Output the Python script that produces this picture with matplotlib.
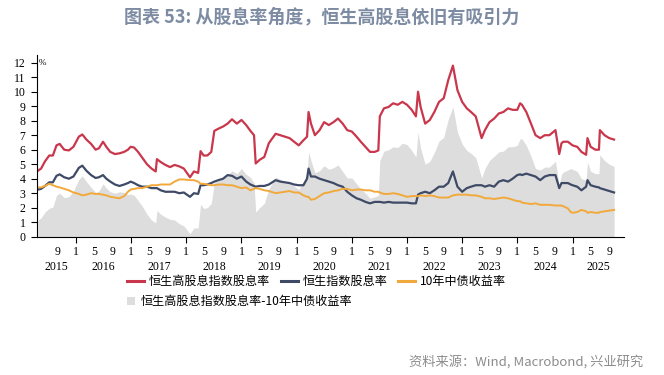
import numpy as np
import pandas as pd
import matplotlib
matplotlib.use("Agg")
import matplotlib.pyplot as plt
import matplotlib.dates as mdates
import matplotlib.transforms as mtransforms
from matplotlib.lines import Line2D
from matplotlib.patches import Patch
from matplotlib.ticker import FuncFormatter

plt.rcParams['font.family'] = ['Noto Sans CJK SC', 'DejaVu Sans']

# data (%)
dates = [
    "2015-04-24", "2015-05-15", "2015-06-10", "2015-07-08", "2015-08-01", "2015-08-25",
    "2015-09-15", "2015-10-15", "2015-11-15", "2015-12-15", "2016-01-20", "2016-02-12",
    "2016-03-10", "2016-04-10", "2016-05-10", "2016-06-01", "2016-06-28", "2016-07-20",
    "2016-08-15", "2016-09-15", "2016-10-15", "2016-11-15", "2016-12-10", "2016-12-28",
    "2017-01-20", "2017-02-15", "2017-03-15", "2017-04-15", "2017-05-15", "2017-06-12",
    "2017-06-20", "2017-07-15", "2017-08-15", "2017-09-15", "2017-10-15", "2017-11-15",
    "2017-12-15", "2018-01-25", "2018-02-20", "2018-03-20", "2018-04-05", "2018-04-25",
    "2018-05-20", "2018-06-15", "2018-07-05", "2018-08-01", "2018-09-01", "2018-10-01",
    "2018-10-30", "2018-12-01", "2019-01-01", "2019-02-01", "2019-03-01", "2019-03-25",
    "2019-04-05", "2019-05-01", "2019-06-01", "2019-07-01", "2019-08-15", "2019-09-15",
    "2019-10-15", "2019-11-15", "2019-12-15", "2020-01-15", "2020-02-15", "2020-03-10",
    "2020-03-20", "2020-04-05", "2020-05-01", "2020-06-01", "2020-07-01", "2020-08-01",
    "2020-09-01", "2020-10-01", "2020-11-01", "2020-12-01", "2021-01-01", "2021-02-01",
    "2021-03-01", "2021-04-01", "2021-05-01", "2021-06-01", "2021-06-25", "2021-07-05",
    "2021-08-01", "2021-09-01", "2021-10-01", "2021-11-01", "2021-12-01", "2022-01-01",
    "2022-02-01", "2022-03-01", "2022-03-15", "2022-04-01", "2022-05-01", "2022-06-01",
    "2022-07-01", "2022-08-01", "2022-09-01", "2022-10-01", "2022-11-01", "2022-12-01",
    "2023-01-01", "2023-02-01", "2023-03-01", "2023-04-01", "2023-05-10", "2023-06-01",
    "2023-07-01", "2023-08-01", "2023-09-01", "2023-10-01", "2023-11-01", "2023-12-01",
    "2024-01-01", "2024-01-20", "2024-02-01", "2024-03-01", "2024-04-01", "2024-05-01",
    "2024-06-01", "2024-07-01", "2024-08-01", "2024-09-10", "2024-10-05", "2024-10-20",
    "2024-11-01", "2024-12-01", "2024-12-20", "2025-01-01", "2025-02-01", "2025-03-01",
    "2025-04-01", "2025-04-10", "2025-05-01", "2025-06-01", "2025-06-25", "2025-07-01",
    "2025-08-01", "2025-09-01", "2025-10-03",
]

# 恒生高股息指数股息率
hshdy = [
    4.55, 4.7, 5.2, 5.6, 5.6, 6.3,
    6.4, 6.0, 5.95, 6.2, 6.9, 7.05,
    6.7, 6.4, 6.0, 6.1, 6.55, 6.2,
    5.85, 5.7, 5.75, 5.85, 6.0, 6.2,
    6.15, 5.85, 5.45, 5.0, 4.7, 4.5,
    5.35, 5.15, 4.95, 4.8, 4.95, 4.85,
    4.7, 4.1, 4.5, 4.4, 5.9, 5.6,
    5.6, 5.85, 7.3, 7.45, 7.6, 7.8,
    8.1, 7.8, 8.05, 7.7, 7.3, 7.0,
    5.05, 5.3, 5.5, 6.45, 7.1, 7.0,
    6.9, 6.8, 6.55, 6.3, 6.65, 6.9,
    8.6, 7.8, 7.0, 7.35, 7.9, 7.7,
    7.9, 8.15, 7.8, 7.35, 7.25, 6.9,
    6.55, 6.2, 5.85, 5.85, 5.95, 8.3,
    8.85, 8.95, 9.2, 9.1, 9.3, 9.1,
    8.75, 8.3, 10.0, 8.95, 7.8, 8.05,
    8.6, 9.3, 9.55, 10.8, 11.8, 10.1,
    9.3, 8.85, 8.6, 8.3, 6.8, 7.35,
    7.9, 8.15, 8.5, 8.6, 8.85, 8.75,
    8.75, 9.2, 9.1, 8.6, 7.8, 7.0,
    6.8, 7.0, 7.0, 7.35, 5.7, 6.45,
    6.55, 6.55, 6.4, 6.3, 6.2, 5.85,
    5.65, 6.8, 6.2, 6.0, 6.0, 7.35,
    7.0, 6.8, 6.7,
]

# 恒生指数股息率
hsi = [
    3.25, 3.3, 3.5, 3.75, 3.75, 4.2,
    4.3, 4.1, 4.0, 4.15, 4.75, 4.9,
    4.55, 4.25, 4.05, 4.1, 4.25, 4.0,
    3.8, 3.6, 3.5, 3.6, 3.7, 3.8,
    3.7, 3.55, 3.45, 3.45, 3.35, 3.35,
    3.35, 3.2, 3.1, 3.1, 3.1, 3.0,
    3.05, 2.75, 3.0, 2.95, 3.55, 3.55,
    3.6, 3.7, 3.8, 3.9, 4.0, 4.25,
    4.2, 4.0, 4.15, 3.8, 3.6, 3.5,
    3.45, 3.5, 3.5, 3.6, 3.9, 3.8,
    3.75, 3.7, 3.6, 3.55, 3.55, 4.0,
    4.7, 4.15, 4.15, 4.0, 3.9, 3.8,
    3.7, 3.55, 3.45, 3.1, 2.85, 2.65,
    2.55, 2.4, 2.3, 2.4, 2.4, 2.4,
    2.35, 2.4, 2.35, 2.35, 2.35, 2.35,
    2.3, 2.3, 2.9, 3.0, 3.1, 3.0,
    3.2, 3.45, 3.45, 3.7, 4.5, 3.45,
    3.1, 3.35, 3.45, 3.55, 3.55, 3.45,
    3.55, 3.45, 3.8, 3.9, 3.8, 4.0,
    4.25, 4.3, 4.25, 4.35, 4.25, 4.15,
    3.9, 4.15, 4.25, 4.25, 3.35, 3.7,
    3.7, 3.7, 3.6, 3.55, 3.45, 3.2,
    3.45, 3.9, 3.55, 3.45, 3.4, 3.35,
    3.25, 3.15, 3.05,
]

# 10年中债收益率
cgb10 = [
    3.4, 3.4, 3.5, 3.65, 3.55, 3.45,
    3.4, 3.3, 3.2, 3.05, 2.95, 2.85,
    2.9, 3.0, 2.95, 2.95, 2.9, 2.85,
    2.75, 2.7, 2.65, 2.8, 3.1, 3.25,
    3.3, 3.35, 3.35, 3.45, 3.55, 3.55,
    3.55, 3.6, 3.6, 3.6, 3.8, 3.95,
    3.95, 3.9, 3.9, 3.8, 3.65, 3.65,
    3.6, 3.55, 3.55, 3.6, 3.6, 3.55,
    3.55, 3.45, 3.35, 3.4, 3.2, 3.3,
    3.35, 3.3, 3.2, 3.15, 3.0, 3.05,
    3.1, 3.15, 3.05, 3.05, 2.85, 2.75,
    2.75, 2.55, 2.6, 2.8, 3.0, 3.05,
    3.15, 3.2, 3.3, 3.3, 3.2, 3.25,
    3.25, 3.2, 3.2, 3.1, 3.1, 3.05,
    2.95, 2.95, 3.0, 2.95, 2.85, 2.75,
    2.8, 2.8, 2.8, 2.85, 2.8, 2.85,
    2.8, 2.7, 2.7, 2.7, 2.85, 2.9,
    2.9, 2.9, 2.85, 2.85, 2.75, 2.65,
    2.65, 2.6, 2.65, 2.7, 2.65, 2.55,
    2.45, 2.45, 2.35, 2.3, 2.25, 2.3,
    2.2, 2.2, 2.2, 2.15, 2.15, 2.15,
    2.1, 1.95, 1.7, 1.65, 1.7, 1.85,
    1.75, 1.65, 1.7, 1.65, 1.65, 1.7,
    1.75, 1.8, 1.85,
]

years = list(range(2015, 2026))
label_start = pd.Timestamp('2015-06-01')   # first month label shown is Sep 2015

RED = '#c9374c'
NAVY = '#3e4a66'
ORANGE = '#f2a93b'
FILL = '#bfbfbf'

x = pd.to_datetime(dates)
gap = np.array(hshdy) - np.array(cgb10)

fig = plt.figure(figsize=(6.64, 3.75), dpi=100)
ax = fig.add_axes([0.0553, 0.3688, 0.8845, 0.4833])

ax.plot(x, hshdy, color=RED, lw=1.6)
ax.plot(x, hsi, color=NAVY, lw=1.6)
ax.plot(x, cgb10, color=ORANGE, lw=1.4)
# spread drawn on top, semi-transparent, so lines underneath look washed out
ax.fill_between(x, 0, gap, color=FILL, alpha=0.53, lw=0)

x0 = pd.Timestamp('2015-04-16')
x1 = pd.Timestamp('2025-12-08')
ax.set_xlim(x0, x1)
ax.set_ylim(0, 12.5)
ax.set_yticks(range(13))


def month_fmt(v, pos):
    d = mdates.num2date(v).replace(tzinfo=None)
    if d < label_start:
        return ''
    return str(d.month)


# Jan: major ticks with a mark; May/Sep: minor ticks, label only
ax.xaxis.set_major_locator(mdates.YearLocator())
ax.xaxis.set_major_formatter(FuncFormatter(month_fmt))
ax.xaxis.set_minor_locator(mdates.MonthLocator(bymonth=[5, 9]))
ax.xaxis.set_minor_formatter(FuncFormatter(month_fmt))
ax.tick_params(axis='x', which='major', length=4, width=0.8, pad=2.5, labelsize=8.5,
               labelfontfamily='Liberation Serif')
ax.tick_params(axis='x', which='minor', length=0, pad=6.5, labelsize=8.5,
               labelfontfamily='Liberation Serif')
ax.tick_params(axis='y', length=4, width=0.8, pad=4, labelsize=8.5,
               labelfontfamily='Liberation Serif')

for s in ['top', 'right']:
    ax.spines[s].set_visible(False)
for s in ['left', 'bottom']:
    ax.spines[s].set_linewidth(0.8)

# year labels centred on the visible part of each year
trans = mtransforms.blended_transform_factory(ax.transData, ax.transAxes)
for yr in years:
    a = max(pd.Timestamp(f'{yr}-01-01'), x0)
    b = min(pd.Timestamp(f'{yr + 1}-01-01'), x1)
    ax.text(a + (b - a) / 2, -0.165, str(yr), transform=trans, ha='center',
            va='center', fontsize=8.5, family='Liberation Serif')

ax.text(0.004, 12 / 12.5, '%', transform=ax.transAxes, ha='left', va='center',
        fontsize=6.5, family='Liberation Serif')

h1 = [Line2D([], [], color=RED, lw=2.2),
      Line2D([], [], color=NAVY, lw=2.2),
      Line2D([], [], color=ORANGE, lw=2.2)]
fig.legend(h1, ['恒生高股息指数股息率', '恒生指数股息率', '10年中债收益率'],
           loc='center left', bbox_to_anchor=(127 / 664, 1 - 281.7 / 375),
           ncol=3, frameon=False, fontsize=8.7, handlelength=1.4,
           handletextpad=0.4, columnspacing=0.9, borderpad=0, borderaxespad=0)
fig.legend([Patch(facecolor='#dddddd', edgecolor='none')],
           ['恒生高股息指数股息率-10年中债收益率'],
           loc='center left', bbox_to_anchor=(127 / 664, 1 - 301.7 / 375),
           frameon=False, fontsize=8.7, handlelength=0.65, handleheight=0.75,
           handletextpad=0.5, borderpad=0, borderaxespad=0)

fig.text(322 / 664, 1 - 16.7 / 375, '图表 53: 从股息率角度，恒生高股息依旧有吸引力',
         ha='center', va='center', fontsize=13, weight='bold', color='#7d8ca3')
fig.text(643 / 664, 1 - 362 / 375, '资料来源：Wind, Macrobond, 兴业研究',
         ha='right', va='center', fontsize=9.5, color='#8c8c8c')

fig.savefig('out.png', dpi=100)
